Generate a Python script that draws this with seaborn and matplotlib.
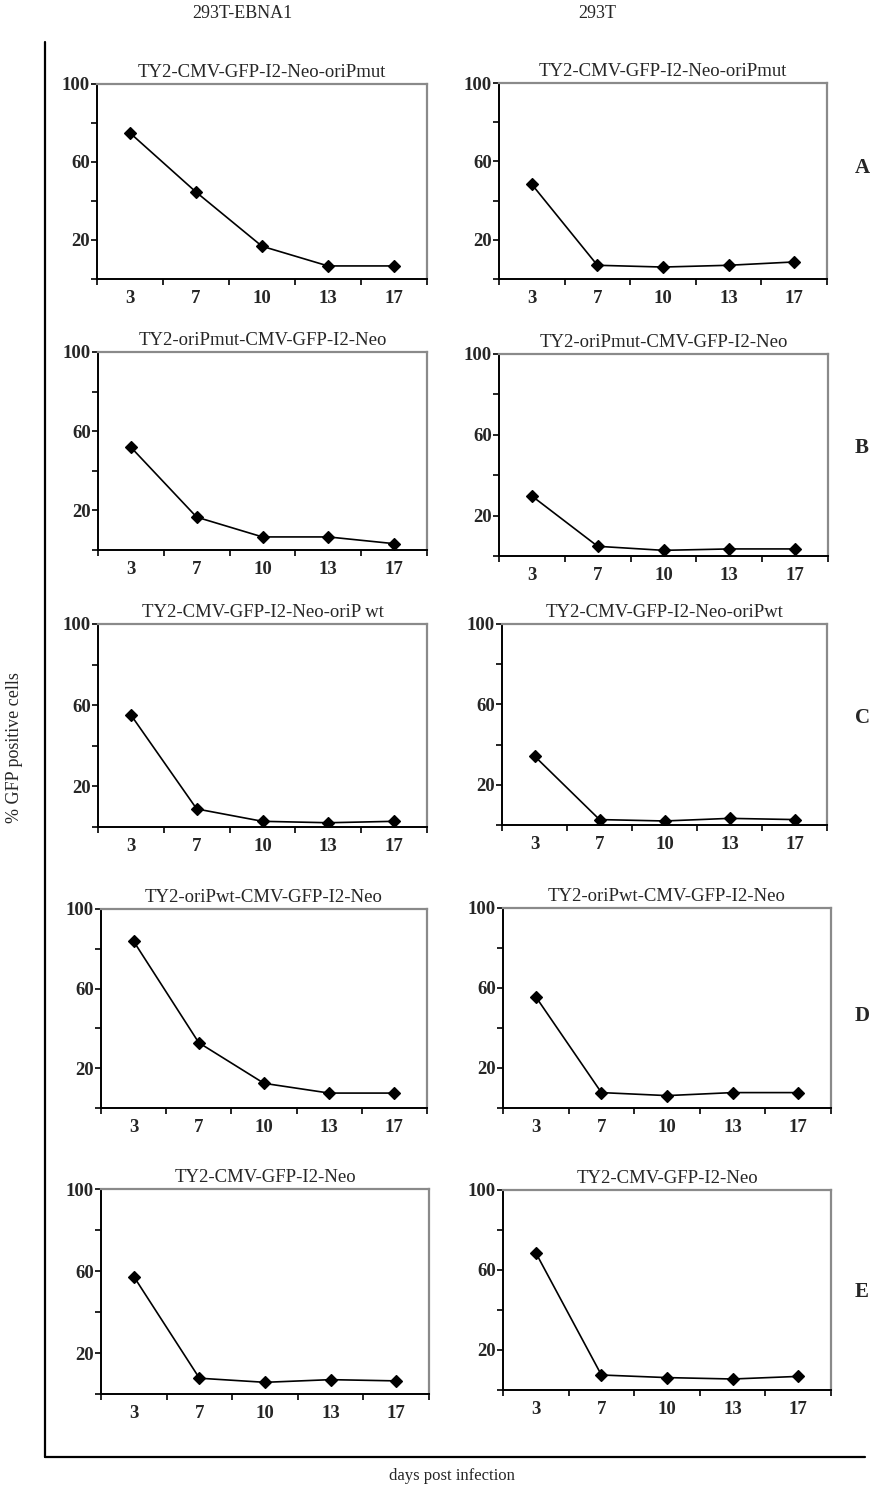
import numpy as np
import pandas as pd
import matplotlib
matplotlib.use("Agg")
import matplotlib.pyplot as plt
from matplotlib.lines import Line2D
import seaborn as sns

# Days post infection (categorical x axis)
days = [3, 7, 10, 13, 17]
y_ticks = [0, 20, 40, 60, 80, 100]
y_labelled = [20, 60, 100]

# % GFP positive cells, 293T-EBNA1 column
ebna1_cmv_orip_mut = [74.9, 44.6, 16.8, 6.7, 6.7]
ebna1_orip_mut_cmv = [51.9, 16.6, 6.6, 6.6, 3.2]
ebna1_cmv_orip_wt = [55.2, 8.9, 2.8, 2.1, 2.8]
ebna1_orip_wt_cmv = [83.8, 32.8, 12.4, 7.5, 7.5]
ebna1_cmv_only = [57.3, 7.7, 5.7, 7.0, 6.4]

# % GFP positive cells, 293T column
t293_cmv_orip_mut = [48.3, 7.0, 6.1, 7.0, 8.7]
t293_orip_mut_cmv = [29.7, 4.8, 2.8, 3.5, 3.5]
t293_cmv_orip_wt = [34.3, 2.7, 2.0, 3.3, 2.7]
t293_orip_wt_cmv = [55.6, 7.7, 6.2, 7.7, 7.7]
t293_cmv_only = [68.6, 7.5, 6.2, 5.5, 6.8]

titles_ebna1 = ["TY2-CMV-GFP-I2-Neo-oriPmut", "TY2-oriPmut-CMV-GFP-I2-Neo",
                "TY2-CMV-GFP-I2-Neo-oriP wt", "TY2-oriPwt-CMV-GFP-I2-Neo",
                "TY2-CMV-GFP-I2-Neo"]
titles_293t = ["TY2-CMV-GFP-I2-Neo-oriPmut", "TY2-oriPmut-CMV-GFP-I2-Neo",
               "TY2-CMV-GFP-I2-Neo-oriPwt", "TY2-oriPwt-CMV-GFP-I2-Neo",
               "TY2-CMV-GFP-I2-Neo"]
row_letters = ["A", "B", "C", "D", "E"]
column_headers = ["293T-EBNA1", "293T"]

sns.set_theme(style="white")
plt.rcParams["font.family"] = ["Liberation Serif", "DejaVu Serif"]

W, H = 876, 1490
fig = plt.figure(figsize=(W / 100, H / 100), dpi=100)


def px_box(l, t, r, b):
    return [l / W, 1 - b / H, (r - l) / W, (b - t) / H]


# pixel boxes (left, top, right, bottom) for each panel
boxes_left = [(97, 84, 427, 279), (98, 352, 427, 550), (98, 624, 427, 827),
              (101, 909, 427, 1108), (101, 1189, 429, 1394)]
boxes_right = [(499, 83, 827, 279), (499, 354, 828, 556), (502, 624, 827, 825),
               (503, 908, 831, 1108), (503, 1190, 831, 1390)]
letter_y = [168, 448, 718, 1016, 1292]

series_left = [ebna1_cmv_orip_mut, ebna1_orip_mut_cmv, ebna1_cmv_orip_wt,
               ebna1_orip_wt_cmv, ebna1_cmv_only]
series_right = [t293_cmv_orip_mut, t293_orip_mut_cmv, t293_cmv_orip_wt,
                t293_orip_wt_cmv, t293_cmv_only]


def draw_panel(box, values, title):
    ax = fig.add_axes(px_box(*box))
    df = pd.DataFrame({"day": days, "pct": values})
    sns.pointplot(data=df, x="day", y="pct", ax=ax, color="black",
                  markers="D", markersize=6, linewidth=1.2, errorbar=None)
    ax.set_xlim(-0.5, len(days) - 0.5)
    ax.set_ylim(0, 100)
    ax.set_xlabel("")
    ax.set_ylabel("")
    # category boundaries carry the tick marks, centres carry the labels
    ax.set_xticks(np.arange(-0.5, len(days), 1.0))
    ax.set_xticklabels([])
    ax.set_xticks(np.arange(len(days)), minor=True)
    ax.set_xticklabels([str(d) for d in days], minor=True,
                       fontweight="bold", fontsize=13.5)
    ax.tick_params(axis="x", which="major", direction="out", length=4,
                   width=1.2, color="black", bottom=True)
    ax.tick_params(axis="x", which="minor", length=0, pad=8, bottom=True)
    ax.set_yticks(y_ticks)
    ax.set_yticklabels([str(v) if v in y_labelled else "" for v in y_ticks],
                       fontweight="bold", fontsize=13.5)
    ax.tick_params(axis="y", direction="out", length=4, width=1.2,
                   color="black", left=True, pad=1)
    for side in ("left", "bottom"):
        ax.spines[side].set_color("black")
        ax.spines[side].set_linewidth(1.4)
    for side in ("top", "right"):
        ax.spines[side].set_color("#8a8a8a")
        ax.spines[side].set_linewidth(1.6)
    ax.set_title(title, fontsize=13.5, pad=5)
    ax.grid(False)
    return ax


for box, vals, title in zip(boxes_left, series_left, titles_ebna1):
    draw_panel(box, vals, title)
for box, vals, title in zip(boxes_right, series_right, titles_293t):
    draw_panel(box, vals, title)

for letter, yy in zip(row_letters, letter_y):
    fig.text(862 / W, 1 - yy / H, letter, fontsize=15, fontweight="bold",
             ha="center", va="center")

fig.text(242 / W, 1 - 14 / H, column_headers[0], fontsize=13,
         ha="center", va="center")
fig.text(597 / W, 1 - 14 / H, column_headers[1], fontsize=13,
         ha="center", va="center")
fig.text(15 / W, 1 - 748 / H, "% GFP positive cells", fontsize=13,
         rotation=90, ha="center", va="center")
fig.text(452 / W, 1 - 1476 / H, "days post infection", fontsize=12,
         ha="center", va="center")

# outer frame: left and bottom rules
fig.add_artist(Line2D([45 / W, 45 / W], [1 - 42 / H, 1 - 1457 / H],
                      color="black", lw=1.6, transform=fig.transFigure))
fig.add_artist(Line2D([45 / W, 865 / W], [1 - 1457 / H, 1 - 1457 / H],
                      color="black", lw=1.6, transform=fig.transFigure))

fig.savefig("out.png", dpi=100, facecolor="white")
